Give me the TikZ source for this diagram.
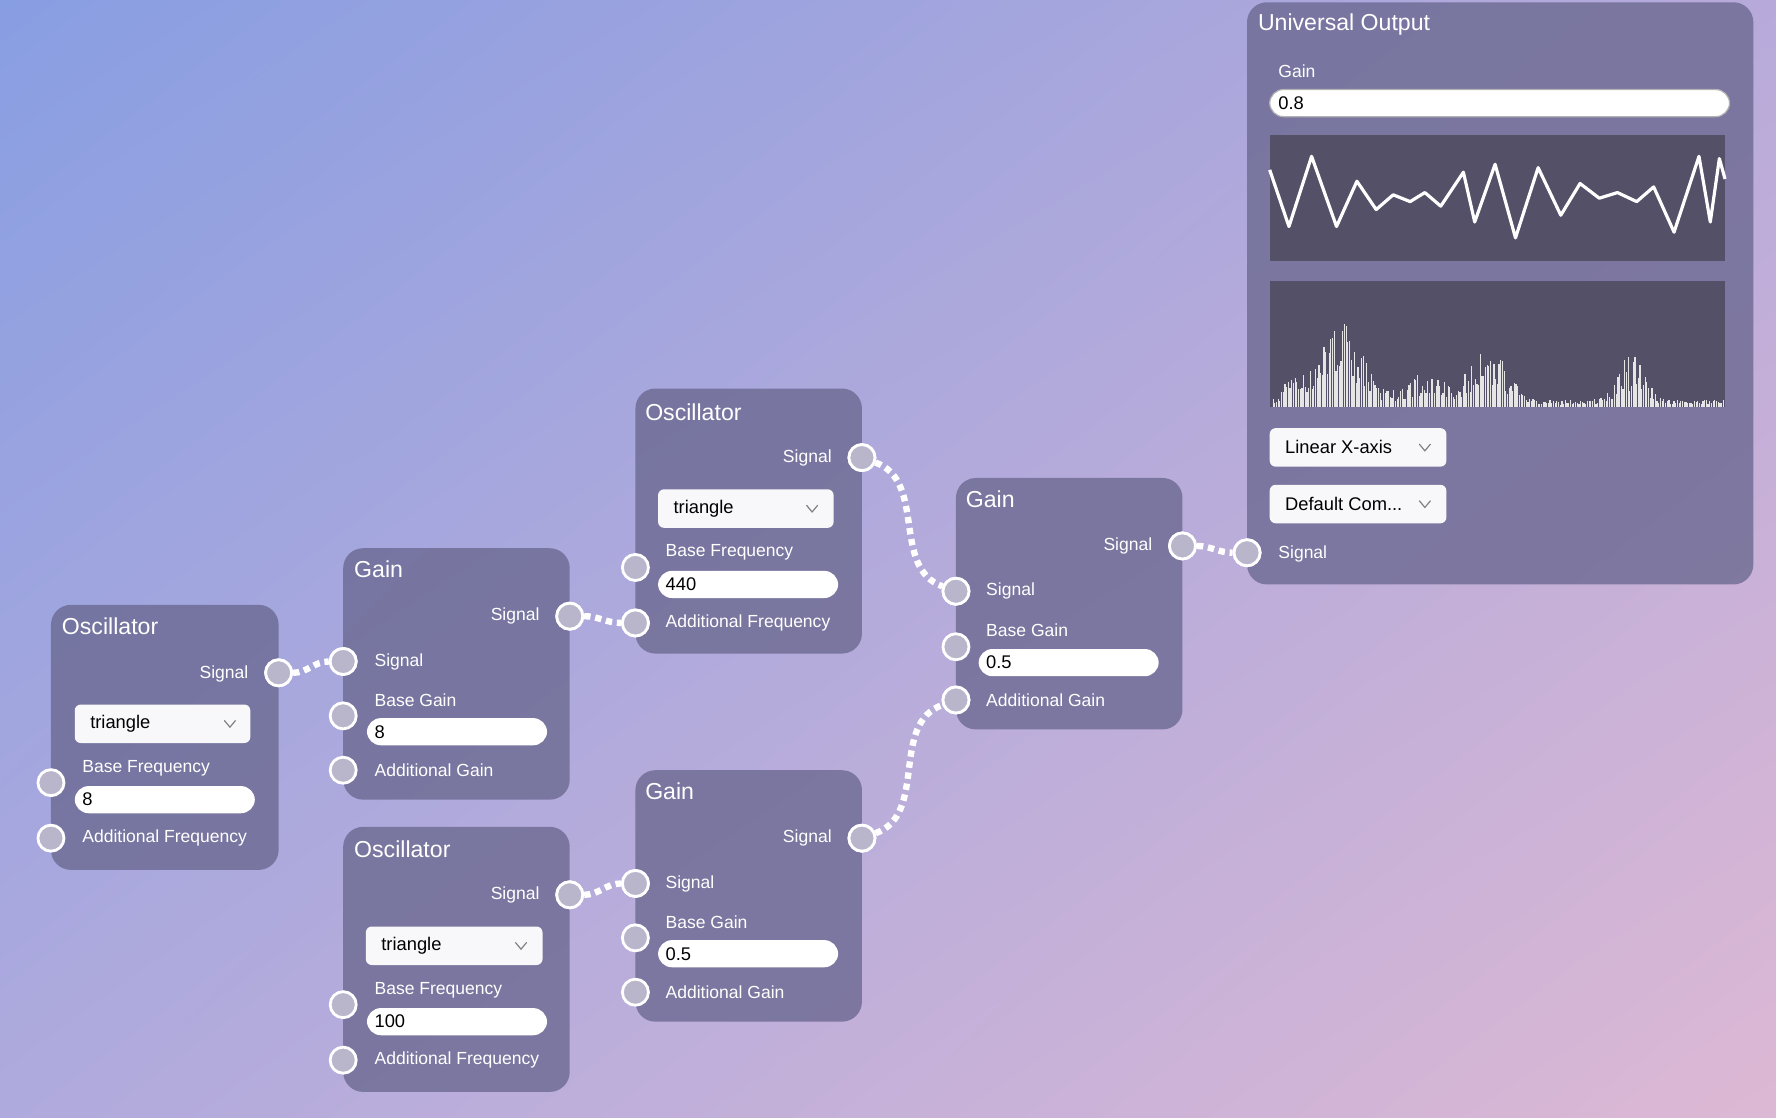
\documentclass[tikz,border=0pt]{standalone}
\usepackage{fontspec}
\setmainfont{Liberation Sans}
\usetikzlibrary{positioning,shadings}

\definecolor{bgul}{HTML}{889EE2}
\definecolor{bgur}{HTML}{B7AADA}
\definecolor{bgll}{HTML}{AFAADD}
\definecolor{bglr}{HTML}{DDB8D4}
\definecolor{panelc}{HTML}{6A6890}
\definecolor{scopec}{HTML}{535068}
\definecolor{portc}{HTML}{B9B6CC}

\tikzset{
  panel/.style={fill=panelc,fill opacity=0.78,rounded corners=5pt,draw=none},
  title/.style={anchor=west,text=white,font=\fontsize{5.8}{7}\selectfont,inner sep=0pt},
  lbl/.style={anchor=west,text=white,font=\fontsize{4.4}{5.5}\selectfont,inner sep=0pt},
  rlbl/.style={anchor=east,text=white,font=\fontsize{4.4}{5.5}\selectfont,inner sep=0pt},
  port/.style={circle,draw=white,line width=0.7pt,fill=portc,minimum size=0.23cm,inner sep=0pt},
  field/.style={fill=white,rounded corners=3.5pt,draw=none},
  fieldtxt/.style={anchor=west,text=black,font=\fontsize{4.6}{5.5}\selectfont,inner sep=0pt},
  menu/.style={fill=white,fill opacity=0.95,rounded corners=1.5pt,draw=none},
  wire/.style={draw=white,line width=1.6pt,dash pattern=on 1.6pt off 1.2pt}
}

\begin{document}
\begin{tikzpicture}[x=0.01cm,y=-0.01cm]
  \shade[upper left=bgul,upper right=bgur,lower left=bgll,lower right=bglr] (0,0) rectangle (1568,987);
  \useasboundingbox (0,0) rectangle (1568,987);

  % Oscillator left
  \fill[panel] (45,534) rectangle (246,768);
  \node[title] at (54,553) {Oscillator};
  \node[rlbl] at (220,595) {Signal};
  \fill[menu] (66,622) rectangle (221,656);
  \node[fieldtxt] at (79,639) {triangle};
  \draw[gray,line width=0.3pt] (198,636) -- (203,642) -- (208,636);
  \node[lbl] at (72,678) {Base Frequency};
  \fill[field] (66,694) rectangle (225,718);
  \node[fieldtxt] at (72,706) {8};
  \node[lbl] at (72,740) {Additional Frequency};
  \node[port] (o1bf) at (45,691) {};
  \node[port] (o1af) at (45,740) {};
  \node[port] (o1s) at (246,594) {};

  % Gain upper
  \fill[panel] (303,484) rectangle (503,706);
  \node[title] at (312,503) {Gain};
  \node[rlbl] at (477,544) {Signal};
  \node[lbl] at (330,584) {Signal};
  \node[lbl] at (330,618) {Base Gain};
  \fill[field] (324,634) rectangle (483,658);
  \node[fieldtxt] at (330,646) {8};
  \node[lbl] at (330,680) {Additional Gain};
  \node[port] (g1s) at (503,544) {};
  \node[port] (g1in) at (303,584) {};
  \node[port] (g1bg) at (303,632) {};
  \node[port] (g1ag) at (303,680) {};

  % Oscillator lower
  \fill[panel] (303,730) rectangle (503,964);
  \node[title] at (312,750) {Oscillator};
  \node[rlbl] at (477,790) {Signal};
  \fill[menu] (323,818) rectangle (479,852);
  \node[fieldtxt] at (336,835) {triangle};
  \draw[gray,line width=0.3pt] (455,832) -- (460,838) -- (465,832);
  \node[lbl] at (330,874) {Base Frequency};
  \fill[field] (324,890) rectangle (483,914);
  \node[fieldtxt] at (330,902) {100};
  \node[lbl] at (330,936) {Additional Frequency};
  \node[port] (o2s) at (503,790) {};
  \node[port] (o2bf) at (303,887) {};
  \node[port] (o2af) at (303,936) {};

  % Oscillator top
  \fill[panel] (561,343) rectangle (761,577);
  \node[title] at (569,364) {Oscillator};
  \node[rlbl] at (735,404) {Signal};
  \fill[menu] (581,432) rectangle (736,466);
  \node[fieldtxt] at (594,449) {triangle};
  \draw[gray,line width=0.3pt] (712,446) -- (717,452) -- (722,446);
  \node[lbl] at (587,488) {Base Frequency};
  \fill[field] (581,504) rectangle (740,528);
  \node[fieldtxt] at (587,516) {440};
  \node[lbl] at (587,550) {Additional Frequency};
  \node[port] (o3s) at (761,404) {};
  \node[port] (o3bf) at (561,501) {};
  \node[port] (o3af) at (561,550) {};

  % Gain lower
  \fill[panel] (561,680) rectangle (761,902);
  \node[title] at (569,699) {Gain};
  \node[rlbl] at (735,740) {Signal};
  \node[lbl] at (587,780) {Signal};
  \node[lbl] at (587,814) {Base Gain};
  \fill[field] (581,830) rectangle (740,854);
  \node[fieldtxt] at (587,842) {0.5};
  \node[lbl] at (587,876) {Additional Gain};
  \node[port] (g2s) at (761,740) {};
  \node[port] (g2in) at (561,780) {};
  \node[port] (g2bg) at (561,828) {};
  \node[port] (g2ag) at (561,876) {};

  % Gain right
  \fill[panel] (844,422) rectangle (1044,644);
  \node[title] at (852,441) {Gain};
  \node[rlbl] at (1018,482) {Signal};
  \node[lbl] at (870,522) {Signal};
  \node[lbl] at (870,556) {Base Gain};
  \fill[field] (864,573) rectangle (1023,597);
  \node[fieldtxt] at (870,585) {0.5};
  \node[lbl] at (870,618) {Additional Gain};
  \node[port] (g3s) at (1044,482) {};
  \node[port] (g3in) at (844,522) {};
  \node[port] (g3bg) at (844,571) {};
  \node[port] (g3ag) at (844,618) {};

  % Universal output
  \fill[panel] (1101,2) rectangle (1548,516);
  \node[title] at (1110,22) {Universal Output};
  \node[lbl] at (1128,63) {Gain};
  \fill[field] (1121,79) rectangle (1527,103);
  \draw[gray!60,line width=0.3pt,rounded corners=3.5pt] (1121,79) rectangle (1527,103);
  \node[fieldtxt] at (1128,91) {0.8};
  \fill[scopec] (1121,119) rectangle (1523,230);
  \draw[white,line width=0.8pt,line join=round] (1121,150) -- (1138,200) -- (1158,138) -- (1180,200)
    -- (1198,160) -- (1215,185) -- (1230,172) -- (1245,178) -- (1258,170) -- (1272,182) -- (1292,152)
    -- (1302,196) -- (1320,145) -- (1338,210) -- (1358,148) -- (1378,190) -- (1395,162) -- (1412,175)
    -- (1428,170) -- (1445,178) -- (1460,165) -- (1478,205) -- (1500,138) -- (1510,196) -- (1518,140) -- (1523,158);
  \fill[scopec] (1121,248) rectangle (1523,359);
  \pgfmathsetseed{7}
  \foreach \x in {1124,1125.5,...,1522} {
    \pgfmathsetmacro{\env}{6+70*exp(-((\x-1185)/25)^2)+28*exp(-((\x-1145)/12)^2)+50*exp(-((\x-1315)/22)^2)+40*exp(-((\x-1440)/16)^2)+25*exp(-((\x-1260)/25)^2)}
    \pgfmathsetmacro{\h}{\env*(0.3+0.7*rnd)}
    \draw[white!80!gray,line width=0.3pt] (\x,359) -- (\x,359-\h);
  }
  \fill[menu] (1121,378) rectangle (1277,412);
  \node[fieldtxt] at (1134,395) {Linear X-axis};
  \draw[gray,line width=0.3pt] (1253,392) -- (1258,398) -- (1263,392);
  \fill[menu] (1121,428) rectangle (1277,462);
  \node[fieldtxt] at (1134,445) {Default Com...};
  \draw[gray,line width=0.3pt] (1253,442) -- (1258,448) -- (1263,442);
  \node[lbl] at (1128,489) {Signal};
  \node[port] (uoin) at (1101,488) {};

  % wires
  \draw[wire] (o1s) to[out=0,in=180] (g1in);
  \draw[wire] (g1s) to[out=0,in=180] (o3af);
  \draw[wire] (o3s) to[out=-20,in=160] (g3in);
  \draw[wire] (o2s) to[out=0,in=180] (g2in);
  \draw[wire] (g2s) to[out=20,in=200] (g3ag);
  \draw[wire] (g3s) to[out=0,in=180] (uoin);
  \foreach \p in {o1s,g1in,g1s,o3af,o3s,g3in,o2s,g2in,g2s,g3ag,g3s,uoin}
    \node[port] at (\p) {};
\end{tikzpicture}
\end{document}
